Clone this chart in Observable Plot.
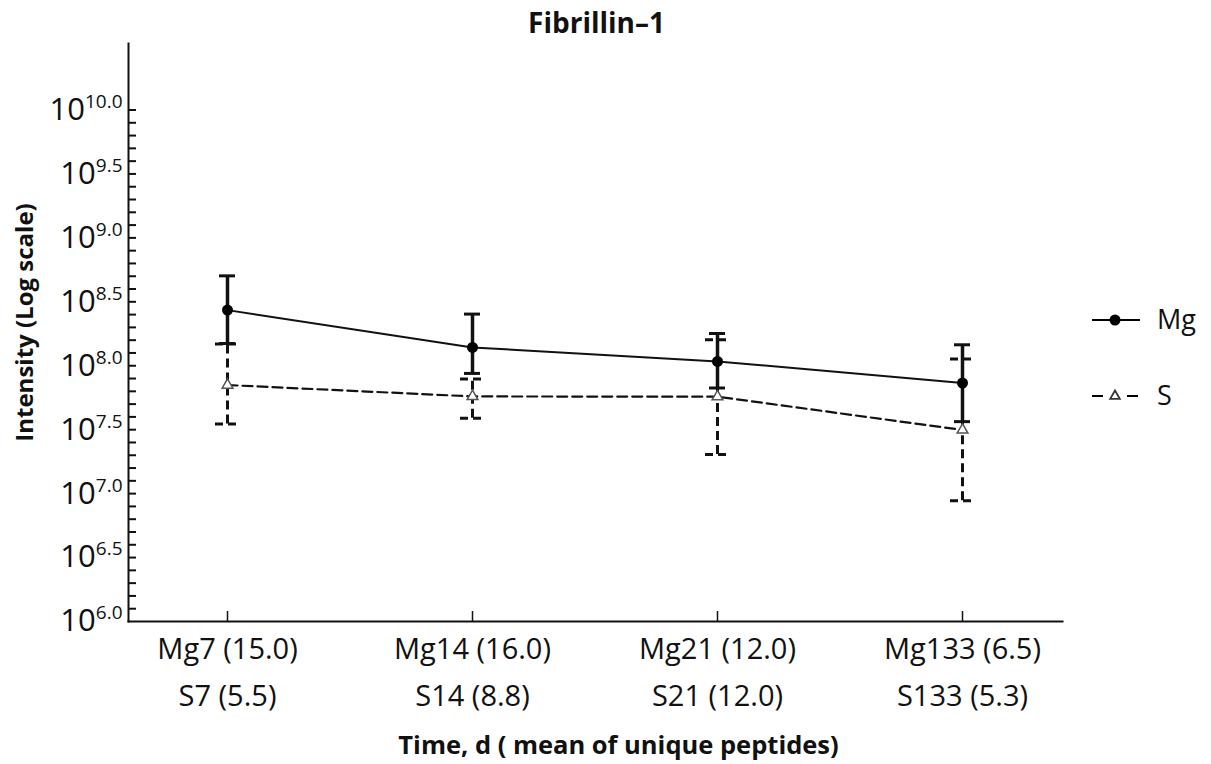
<!DOCTYPE html>
<html>
<head>
<meta charset="utf-8">
<script src="https://cdn.jsdelivr.net/npm/d3@7"></script>
<script src="https://cdn.jsdelivr.net/npm/@observablehq/plot@0.6"></script>
<style>
  html, body { margin: 0; padding: 0; background: #fff; }
  #wrap { position: relative; width: 1211px; height: 764px; font-family: "Open Sans", sans-serif; }
  #legend { position: absolute; left: 1080px; top: 290px; }
</style>
</head>
<body>
<div id="wrap"></div>
<script>
// ---- data (log10 of intensity) ----
const categories = [
  "Mg7 (15.0)\nS7 (5.5)",
  "Mg14 (16.0)\nS14 (8.8)",
  "Mg21 (12.0)\nS21 (12.0)",
  "Mg133 (6.5)\nS133 (5.3)"
];
const seriesNames = ["Mg", "S"];
const mgLog  = [8.435, 8.143, 8.034, 7.865];
const mgHigh = [8.703, 8.404, 8.252, 8.164];
const mgLow  = [8.174, 7.940, 7.826, 7.563];
const sLog   = [7.849, 7.760, 7.758, 7.498];
const sHigh  = [8.170, 7.896, 8.203, 8.052];
const sLow   = [7.545, 7.590, 7.305, 6.945];
const yMinorTicks = d3.range(61, 101).map(d => d / 10);
const yLabelTicks = d3.range(60, 101, 5).map(d => d / 10);
const titleText = "Fibrillin–1";
const yLabel = "Intensity (Log scale)";
const xLabel = "Time, d ( mean of unique peptides)";

const mg = categories.map((c, i) => ({cat: c, v: mgLog[i], lo: mgLow[i], hi: mgHigh[i]}));
const s  = categories.map((c, i) => ({cat: c, v: sLog[i],  lo: sLow[i],  hi: sHigh[i]}));

const W = 1211, H = 764;
const mL = 128, mR = 149, mT = 43, mB = 143;
const frameW = W - mL - mR, frameH = H - mT - mB;

const chart = Plot.plot({
  width: W,
  height: H,
  marginLeft: mL, marginRight: mR, marginTop: mT, marginBottom: mB,
  style: {fontFamily: "'Open Sans', sans-serif", color: "#111", background: "white"},
  x: {type: "band", domain: categories, paddingInner: 0.902, paddingOuter: 0.357},
  y: {type: "linear", domain: [6, 10.52]},
  marks: [
    // axes
    Plot.axisX({ticks: categories, tickSize: 0, tickPadding: 4, fontSize: 29, lineHeight: 1.63, label: null}),
    Plot.axisY({ticks: yLabelTicks, tickSize: 0, tickPadding: 6, fontSize: 31, tickFormat: d => d.toFixed(1), label: null}),
    Plot.tickY(yMinorTicks, {y: d => d, insetRight: frameW - 8, strokeWidth: 2}),
    Plot.ruleX(categories, {x: d => d, insetTop: frameH - 10, strokeWidth: 1.5}),
    Plot.frame({anchor: "left", strokeWidth: 2}),
    Plot.frame({anchor: "bottom", strokeWidth: 2}),
    // S series (dashed)
    Plot.ruleX(s, {x: "cat", y1: "lo", y2: "hi", strokeWidth: 3, strokeDasharray: "9,5"}),
    Plot.tickY(s, {x: "cat", y: "hi", strokeWidth: 3, strokeDasharray: "8,5"}),
    Plot.tickY(s, {x: "cat", y: "lo", strokeWidth: 3, strokeDasharray: "8,5"}),
    Plot.line(s, {x: "cat", y: "v", strokeWidth: 2.2, strokeDasharray: "10,5"}),
    Plot.dot(s, {x: "cat", y: "v", symbol: "triangle", r: 4, fill: "white", stroke: "#555", strokeWidth: 1.5}),
    // Mg series (solid)
    Plot.ruleX(mg, {x: "cat", y1: "lo", y2: "hi", strokeWidth: 3.5}),
    Plot.tickY(mg, {x: "cat", y: "hi", insetLeft: 4, insetRight: 4, strokeWidth: 3}),
    Plot.tickY(mg, {x: "cat", y: "lo", insetLeft: 4, insetRight: 4, strokeWidth: 3}),
    Plot.line(mg, {x: "cat", y: "v", strokeWidth: 2}),
    Plot.dot(mg, {x: "cat", y: "v", r: 5.5, fill: "black"}),
    // titles
    Plot.text([titleText], {frameAnchor: "top", dx: 1, dy: -11, lineAnchor: "bottom", textAnchor: "middle", fontSize: 28, fontWeight: "bold"}),
    Plot.text([yLabel], {frameAnchor: "left", dx: -103, dy: -10, rotate: -90, textAnchor: "middle", fontSize: 24, fontWeight: "bold"}),
    Plot.text([xLabel], {frameAnchor: "bottom", dx: 23, dy: 132, lineAnchor: "bottom", textAnchor: "middle", fontSize: 25.5, fontWeight: "bold"})
  ]
});

// superscript exponents on y tick labels
d3.select(chart).selectAll('g[aria-label="y-axis tick label"] text').each(function() {
  const t = d3.select(this);
  const exp = t.text();
  t.text(null);
  t.append("tspan").text("10");
  t.append("tspan").attr("font-size", 19).attr("dy", -12).text(exp);
});

const wrap = document.getElementById("wrap");
wrap.appendChild(chart);

// legend
const leg = d3.create("svg").attr("id", "legend").attr("width", 131).attr("height", 130)
  .style("font-family", "'Open Sans', sans-serif");
const g1 = leg.append("g").attr("transform", "translate(0,30)");
g1.append("line").attr("x1", 12).attr("x2", 60).attr("y1", 0).attr("y2", 0).attr("stroke", "black").attr("stroke-width", 2);
g1.append("circle").attr("cx", 35).attr("cy", 0).attr("r", 5.5).attr("fill", "black");
g1.append("text").attr("x", 77).attr("y", 0).attr("dy", "0.35em").attr("font-size", 27).attr("fill", "#111").text(seriesNames[0]);
const g2 = leg.append("g").attr("transform", "translate(0,106)");
g2.append("line").attr("x1", 12).attr("x2", 58).attr("y1", 0).attr("y2", 0).attr("stroke", "black").attr("stroke-width", 2.2).attr("stroke-dasharray", "11,24,11");
g2.append("path").attr("d", d3.symbol(d3.symbolTriangle, 40)()).attr("transform", "translate(35,0)").attr("fill", "white").attr("stroke", "#333").attr("stroke-width", 1.8);
g2.append("text").attr("x", 77).attr("y", 0).attr("dy", "0.35em").attr("font-size", 27).attr("fill", "#111").text(seriesNames[1]);
wrap.appendChild(leg.node());
</script>
</body>
</html>
